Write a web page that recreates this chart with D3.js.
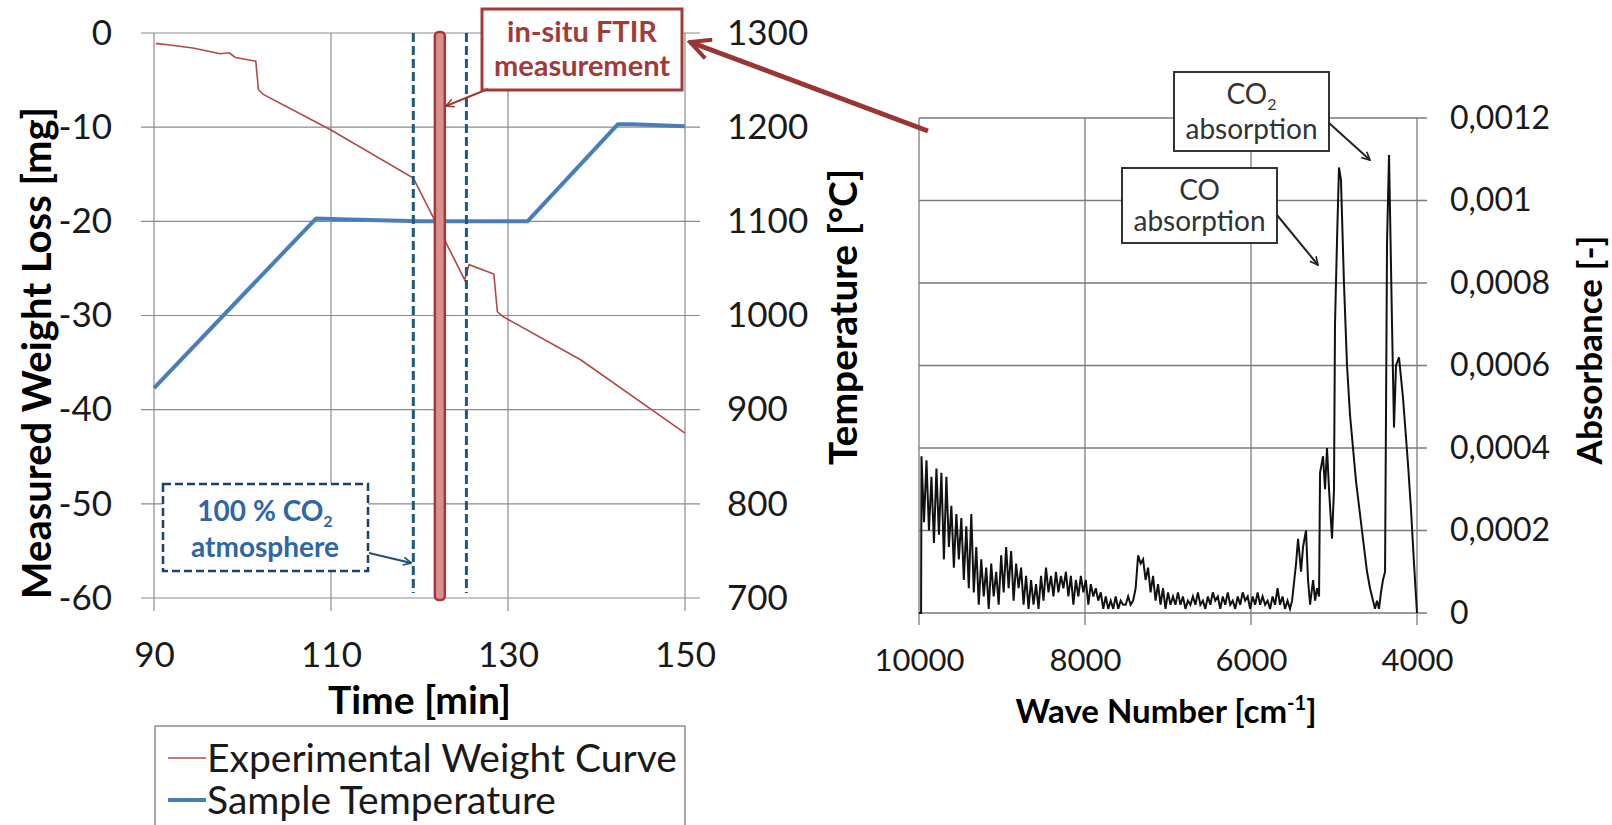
<!DOCTYPE html>
<html>
<head>
<meta charset="utf-8">
<script src="https://cdn.jsdelivr.net/npm/d3@7"></script>
<style>
  body { margin: 0; background: #fff; }
  svg { display: block; font-family: Lato, 'Open Sans', sans-serif; }
</style>
</head>
<body>
<script>
// left chart: thermogravimetry
var timeTicks = [90, 110, 130, 150];
var weightTicks = [0, -10, -20, -30, -40, -50, -60];
var tempTicks = [1300, 1200, 1100, 1000, 900, 800, 700];

// [time min, weight mg]
var weightCurve = [[90.2, -1.1], [92, -1.3], [94.4, -1.6], [97.5, -2.2], [98.5, -2.1], [99.2, -2.6],
  [101.5, -3.0], [101.8, -6.0], [102.3, -6.5], [110, -10.3], [119.3, -15.4], [122.1, -20.6],
  [125.1, -26.2], [125.6, -24.6], [128.4, -25.6], [128.8, -29.6], [129.4, -30.1], [138.2, -34.7],
  [150, -42.5]];

// [time min, temperature °C]
var tempCurve = [[90, 923], [108.3, 1103], [112, 1102], [120, 1100], [132.2, 1100], [142.4, 1203],
  [144, 1203], [150, 1201]];

var co2Window = [119.3, 125.3];   // dashed lines, 100 % CO2
var ftirTime = 122.3;             // in-situ FTIR measurement

// right chart: FTIR spectrum
var waveTicks = [10000, 8000, 6000, 4000];
var absTicks = [0, 0.0002, 0.0004, 0.0006, 0.0008, 0.001, 0.0012];

// [wave number cm-1, absorbance]
var spectrum = [[10000, 0], [9975, 0], [9970, 0.00038], [9940, 0.00022], [9910, 0.00037], [9880, 0.0002],
  [9850, 0.00033], [9820, 0.00017], [9790, 0.00035], [9760, 0.00019], [9730, 0.00034], [9700, 0.00013],
  [9670, 0.00033], [9640, 0.00016], [9610, 0.00026], [9580, 0.00011], [9550, 0.00024], [9520, 0.00013],
  [9490, 0.00023], [9460, 0.00008], [9430, 0.00021], [9400, 0.00006], [9370, 0.00024], [9340, 0.00005],
  [9310, 0.00016], [9280, 0.00002], [9250, 0.00013], [9220, 0.00004], [9190, 0.00011], [9160, 0.00001],
  [9130, 0.00012], [9100, 0.00004], [9070, 0.0001], [9040, 0.00002], [9010, 0.00014], [8980, 0.00005],
  [8950, 0.00016], [8920, 0.00006], [8890, 0.00015], [8860, 0.00003], [8830, 0.00012], [8800, 0.00006],
  [8770, 0.00011], [8740, 0.00002], [8710, 0.00009], [8680, 0.00001], [8650, 0.00008], [8620, 0.00002],
  [8590, 0.00007], [8560, 0.00001], [8530, 0.00009], [8500, 0.00003], [8470, 0.00011], [8440, 0.00005],
  [8410, 0.00009], [8380, 0.00004], [8350, 0.0001], [8320, 0.00005], [8290, 0.00009], [8260, 0.00006],
  [8230, 0.0001], [8200, 0.00004], [8170, 0.00009], [8140, 0.00002], [8110, 0.00008], [8080, 0.00004],
  [8050, 0.00009], [8020, 0.00005], [7990, 0.00008], [7960, 0.00002], [7930, 0.00007], [7900, 0.00004],
  [7870, 0.00006], [7840, 0.00003], [7810, 0.00005], [7780, 0.00001], [7750, 0.00004], [7720, 0.00001],
  [7690, 0.00003], [7660, 0.00001], [7630, 0.00004], [7600, 0.00001], [7570, 0.00003], [7540, 0.00002],
  [7510, 0.00002], [7480, 0.00004], [7450, 0.00002], [7420, 0.00003], [7390, 0.00006], [7360, 0.00014],
  [7330, 0.00012], [7300, 0.00013], [7270, 0.00008], [7240, 0.00011], [7210, 0.00005], [7180, 0.00009],
  [7150, 0.00003], [7120, 0.00007], [7090, 0.00002], [7060, 0.00006], [7030, 0.00001], [7000, 0.00005],
  [6970, 0.00002], [6940, 0.00004], [6910, 0.00002], [6880, 0.00005], [6850, 0.00002], [6820, 0.00004],
  [6790, 0.00001], [6760, 0.00003], [6730, 0.00002], [6700, 0.00004], [6670, 0.00002], [6640, 0.00005],
  [6610, 0.00002], [6580, 0.00003], [6550, 0.00001], [6520, 0.00004], [6490, 0.00002], [6460, 0.00005],
  [6430, 0.00003], [6400, 0.00004], [6370, 0.00001], [6340, 0.00004], [6310, 0.00002], [6280, 0.00005],
  [6250, 0.00002], [6220, 0.00003], [6190, 0.00001], [6160, 0.00004], [6130, 0.00002], [6100, 0.00005],
  [6070, 0.00003], [6040, 0.00004], [6010, 0.00001], [5980, 0.00004], [5950, 0.00002], [5920, 0.00005],
  [5890, 0.00002], [5860, 0.00004], [5830, 0.00002], [5800, 0.00003], [5770, 0.00001], [5740, 0.00004],
  [5710, 0.00002], [5680, 0.00006], [5650, 0.00002], [5620, 0.00004], [5590, 0.00001], [5560, 0.00003],
  [5530, 0.00001], [5505, 0.00003], [5457, 0.00012], [5433, 0.00018], [5397, 0.0001], [5373, 0.00016],
  [5337, 0.0002], [5313, 0.00008], [5288, 0.00002], [5252, 0.00008], [5228, 0.00003], [5204, 0.00006],
  [5180, 0.00004], [5168, 0.00034], [5132, 0.00038], [5108, 0.0003], [5084, 0.0004], [5060, 0.0003],
  [5024, 0.00018], [5000, 0.0003], [4988, 0.0007], [4964, 0.0009], [4940, 0.00108], [4916, 0.00105],
  [4880, 0.0008], [4843, 0.0006], [4807, 0.00048], [4771, 0.0004], [4735, 0.00032], [4711, 0.00028],
  [4675, 0.00022], [4651, 0.00018], [4602, 0.0001], [4566, 0.00006], [4530, 0.00003], [4506, 0.00001],
  [4482, 0.00003], [4458, 0.00001], [4434, 0.00005], [4410, 0.00008], [4385, 0.0001], [4361, 0.0009],
  [4337, 0.00111], [4301, 0.0007], [4277, 0.00045], [4253, 0.0006], [4217, 0.00062], [4168, 0.00052],
  [4108, 0.00036], [4072, 0.00025], [4036, 0.00012], [4000, 0]];

var W = 1612, H = 825;
var font = "Lato, 'Open Sans', sans-serif";
var grid = '#8c8c8c';

var svg = d3.select('body').append('svg')
  .attr('width', W)
  .attr('height', H);

// arrow heads
var defs = svg.append('defs');
[['headRed', '#9b3535'], ['headBlue', '#1f4e79'], ['headBlack', '#222']].forEach(function(m) {
  defs.append('marker')
    .attr('id', m[0])
    .attr('viewBox', '0 0 10 10')
    .attr('refX', 9).attr('refY', 5)
    .attr('markerWidth', 5).attr('markerHeight', 5)
    .attr('markerUnits', 'strokeWidth')
    .attr('orient', 'auto')
    .append('path')
    .attr('d', 'M1,1 L9,5 L1,9')
    .attr('fill', 'none')
    .attr('stroke', m[1])
    .attr('stroke-width', 1.6);
});

/* ---------------- left chart ---------------- */
var x = d3.scaleLinear().domain([90, 150]).range([154, 685]);
var yW = d3.scaleLinear().domain([-60, 0]).range([598, 33]);
var yT = d3.scaleLinear().domain([700, 1300]).range([598, 33]);

var left = svg.append('g');

left.selectAll('.hgrid')
  .data(weightTicks).enter()
  .append('line')
  .attr('x1', x(90) - 13).attr('x2', x(150) + 15)
  .attr('y1', function(d) { return yW(d); })
  .attr('y2', function(d) { return yW(d); })
  .attr('stroke', grid).attr('stroke-width', 1.2);

left.selectAll('.vgrid')
  .data(timeTicks).enter()
  .append('line')
  .attr('x1', function(d) { return x(d); })
  .attr('x2', function(d) { return x(d); })
  .attr('y1', yW(0)).attr('y2', yW(-60) + 13)
  .attr('stroke', grid).attr('stroke-width', 1.2);

var plain = function(d) { return String(d); };   // hyphen minus, no thousands sep
var axL = left.append('g')
  .attr('transform', 'translate(' + x(90) + ',0)')
  .call(d3.axisLeft(yW).tickValues(weightTicks).tickSize(0).tickPadding(42).tickFormat(plain));
var axR = left.append('g')
  .attr('transform', 'translate(' + x(150) + ',0)')
  .call(d3.axisRight(yT).tickValues(tempTicks).tickSize(0).tickPadding(42).tickFormat(plain));
var axB = left.append('g')
  .attr('transform', 'translate(0,' + yW(-60) + ')')
  .call(d3.axisBottom(x).tickValues(timeTicks).tickSize(0).tickPadding(44).tickFormat(plain));
[axL, axR, axB].forEach(function(a) {
  a.select('.domain').remove();
  a.selectAll('text').attr('font-size', 35).attr('font-family', font).attr('fill', '#1a1a1a');
});

// weight curve
left.append('path')
  .datum(weightCurve)
  .attr('fill', 'none')
  .attr('stroke', '#b04a4a')
  .attr('stroke-width', 1.6)
  .attr('d', d3.line().x(function(d) { return x(d[0]); }).y(function(d) { return yW(d[1]); }));

// temperature
left.append('path')
  .datum(tempCurve)
  .attr('fill', 'none')
  .attr('stroke', '#4a7ebb')
  .attr('stroke-width', 4)
  .attr('stroke-linejoin', 'round')
  .attr('d', d3.line().x(function(d) { return x(d[0]); }).y(function(d) { return yT(d[1]); }));

// CO2 window
left.selectAll('.co2')
  .data(co2Window).enter()
  .append('line')
  .attr('x1', function(d) { return x(d); })
  .attr('x2', function(d) { return x(d); })
  .attr('y1', yW(0)).attr('y2', yW(-60) - 5)
  .attr('stroke', '#1f5a7e').attr('stroke-width', 3)
  .attr('stroke-dasharray', '9,4');

// FTIR bar
left.append('rect')
  .attr('x', x(ftirTime) - 5).attr('width', 10)
  .attr('y', yW(0) - 1).attr('height', yW(-60) - yW(0) + 3)
  .attr('rx', 4)
  .attr('fill', '#d98f8c')
  .attr('stroke', '#a33a3a').attr('stroke-width', 2.5);

// FTIR label
left.append('rect')
  .attr('x', 482).attr('y', 9).attr('width', 200).attr('height', 81)
  .attr('fill', '#fff').attr('stroke', '#a33a3a').attr('stroke-width', 3);
left.selectAll('.ftir')
  .data(['in-situ FTIR', 'measurement']).enter()
  .append('text')
  .attr('x', 582).attr('y', function(d, i) { return 42 + i * 34; })
  .attr('text-anchor', 'middle')
  .attr('font-size', 29).attr('font-weight', 'bold').attr('font-family', font)
  .attr('fill', '#a33a3a')
  .text(function(d) { return d; });
left.append('line')
  .attr('x1', 488).attr('y1', 89).attr('x2', x(ftirTime) + 6).attr('y2', 106)
  .attr('stroke', '#a33a3a').attr('stroke-width', 2)
  .attr('marker-end', 'url(#headRed)');

// CO2 atmosphere label
left.append('rect')
  .attr('x', 163).attr('y', 484).attr('width', 205).attr('height', 87)
  .attr('fill', '#fff').attr('stroke', '#1f3f6f').attr('stroke-width', 2.5)
  .attr('stroke-dasharray', '8,4');
var co2Txt = left.append('text')
  .attr('x', 265).attr('y', 521)
  .attr('text-anchor', 'middle')
  .attr('font-size', 28).attr('font-weight', 'bold').attr('font-family', font)
  .attr('fill', '#2f66a5');
co2Txt.append('tspan').text('100 % CO');
co2Txt.append('tspan').attr('font-size', 16).attr('dy', 6).text('2');
left.append('text')
  .attr('x', 265).attr('y', 557)
  .attr('text-anchor', 'middle')
  .attr('font-size', 28).attr('font-weight', 'bold').attr('font-family', font)
  .attr('fill', '#2f66a5')
  .text('atmosphere');
left.append('line')
  .attr('x1', 369).attr('y1', 553).attr('x2', x(co2Window[0]) - 2).attr('y2', 563)
  .attr('stroke', '#1f4e79').attr('stroke-width', 2)
  .attr('marker-end', 'url(#headBlue)');

// axis titles
left.append('text')
  .attr('transform', 'translate(51,353) rotate(-90)')
  .attr('text-anchor', 'middle')
  .attr('font-size', 40).attr('font-weight', 'bold').attr('font-family', font)
  .text('Measured Weight Loss [mg]');
left.append('text')
  .attr('transform', 'translate(857,317) rotate(-90)')
  .attr('text-anchor', 'middle')
  .attr('font-size', 39).attr('font-weight', 'bold').attr('font-family', font)
  .text('Temperature [°C]');
left.append('text')
  .attr('x', x(120)).attr('y', 714)
  .attr('text-anchor', 'middle')
  .attr('font-size', 39).attr('font-weight', 'bold').attr('font-family', font)
  .text('Time [min]');

// legend
var legend = left.append('g');
legend.append('rect')
  .attr('x', 155).attr('y', 726).attr('width', 530).attr('height', 120)
  .attr('fill', '#fff').attr('stroke', '#8c8c8c').attr('stroke-width', 1.5);
var legItems = [
  { name: 'Experimental Weight Curve', color: '#b04a4a', w: 1.6 },
  { name: 'Sample Temperature', color: '#4a7ebb', w: 4 }
];
var leg = legend.selectAll('.leg')
  .data(legItems).enter()
  .append('g')
  .attr('transform', function(d, i) { return 'translate(0,' + (758 + i * 42) + ')'; });
leg.append('line')
  .attr('x1', 168).attr('x2', 206)
  .attr('stroke', function(d) { return d.color; })
  .attr('stroke-width', function(d) { return d.w; });
leg.append('text')
  .attr('x', 207).attr('y', 14)
  .attr('font-size', 39).attr('font-family', font).attr('fill', '#1a1a1a')
  .text(function(d) { return d.name; });

/* ---------------- right chart ---------------- */
var xs = d3.scaleLinear().domain([10000, 4000]).range([919, 1417]);
var ys = d3.scaleLinear().domain([0, 0.0012]).range([613, 118]);

var right = svg.append('g');

right.selectAll('.hgrid')
  .data(absTicks).enter()
  .append('line')
  .attr('x1', xs(10000)).attr('x2', xs(4000) + 10)
  .attr('y1', function(d) { return ys(d); })
  .attr('y2', function(d) { return ys(d); })
  .attr('stroke', '#7a7a7a').attr('stroke-width', 1.3);

right.selectAll('.vgrid')
  .data(waveTicks).enter()
  .append('line')
  .attr('x1', function(d) { return xs(d); })
  .attr('x2', function(d) { return xs(d); })
  .attr('y1', ys(0.0012)).attr('y2', ys(0) + 12)
  .attr('stroke', '#7a7a7a').attr('stroke-width', 1.3);

var sR = right.append('g')
  .attr('transform', 'translate(' + xs(4000) + ',0)')
  .call(d3.axisRight(ys).tickValues(absTicks).tickSize(0).tickPadding(33)
    .tickFormat(function(d) { return d === 0 ? '0' : String(+d.toFixed(4)).replace('.', ','); }));
var sB = right.append('g')
  .attr('transform', 'translate(0,' + ys(0) + ')')
  .call(d3.axisBottom(xs).tickValues(waveTicks).tickSize(0).tickPadding(36).tickFormat(plain));
sR.selectAll('text').attr('font-size', 32);
sB.selectAll('text').attr('font-size', 31);
[sR, sB].forEach(function(a) {
  a.select('.domain').remove();
  a.selectAll('text').attr('font-family', font).attr('fill', '#1a1a1a');
});

right.append('path')
  .datum(spectrum)
  .attr('fill', 'none')
  .attr('stroke', '#111')
  .attr('stroke-width', 2)
  .attr('d', d3.line().x(function(d) { return xs(d[0]); }).y(function(d) { return ys(d[1]); }));

// peak labels
var notes = [
  { main: 'CO', sub: '2', x: 1174, y: 72, w: 155, h: 79, to: [1370, 160] },
  { main: 'CO', sub: '', x: 1122, y: 168, w: 155, h: 75, to: [1318, 265] }
];
notes.forEach(function(n) {
  right.append('rect')
    .attr('x', n.x).attr('y', n.y).attr('width', n.w).attr('height', n.h)
    .attr('fill', '#fff').attr('stroke', '#333').attr('stroke-width', 2);
  var t = right.append('text')
    .attr('x', n.x + n.w / 2).attr('y', n.y + 32)
    .attr('text-anchor', 'middle')
    .attr('font-size', 28).attr('font-family', font).attr('fill', '#333');
  t.append('tspan').text(n.main);
  if (n.sub) t.append('tspan').attr('font-size', 16).attr('dy', 6).text(n.sub);
  right.append('text')
    .attr('x', n.x + n.w / 2).attr('y', n.y + n.h - 12)
    .attr('text-anchor', 'middle')
    .attr('font-size', 28).attr('font-family', font).attr('fill', '#333')
    .text('absorption');
  right.append('line')
    .attr('x1', n.x + n.w).attr('y1', n.y + n.h - 28)
    .attr('x2', n.to[0]).attr('y2', n.to[1])
    .attr('stroke', '#222').attr('stroke-width', 2)
    .attr('marker-end', 'url(#headBlack)');
});

right.append('text')
  .attr('transform', 'translate(1602,350) rotate(-90)')
  .attr('text-anchor', 'middle')
  .attr('font-size', 35).attr('font-weight', 'bold').attr('font-family', font)
  .text('Absorbance [-]');
var wt = right.append('text')
  .attr('x', 1166).attr('y', 723)
  .attr('text-anchor', 'middle')
  .attr('font-size', 33).attr('font-weight', 'bold').attr('font-family', font);
wt.append('tspan').text('Wave Number [cm');
wt.append('tspan').attr('font-size', 20).attr('dy', -13).text('-1');
wt.append('tspan').attr('dy', 13).text(']');

// big arrow from the spectrum to the FTIR label
svg.append('line')
  .attr('x1', 928).attr('y1', 131).attr('x2', 690).attr('y2', 42)
  .attr('stroke', '#9b3535').attr('stroke-width', 5)
  .attr('marker-end', 'url(#headRed)');
</script>
</body>
</html>
